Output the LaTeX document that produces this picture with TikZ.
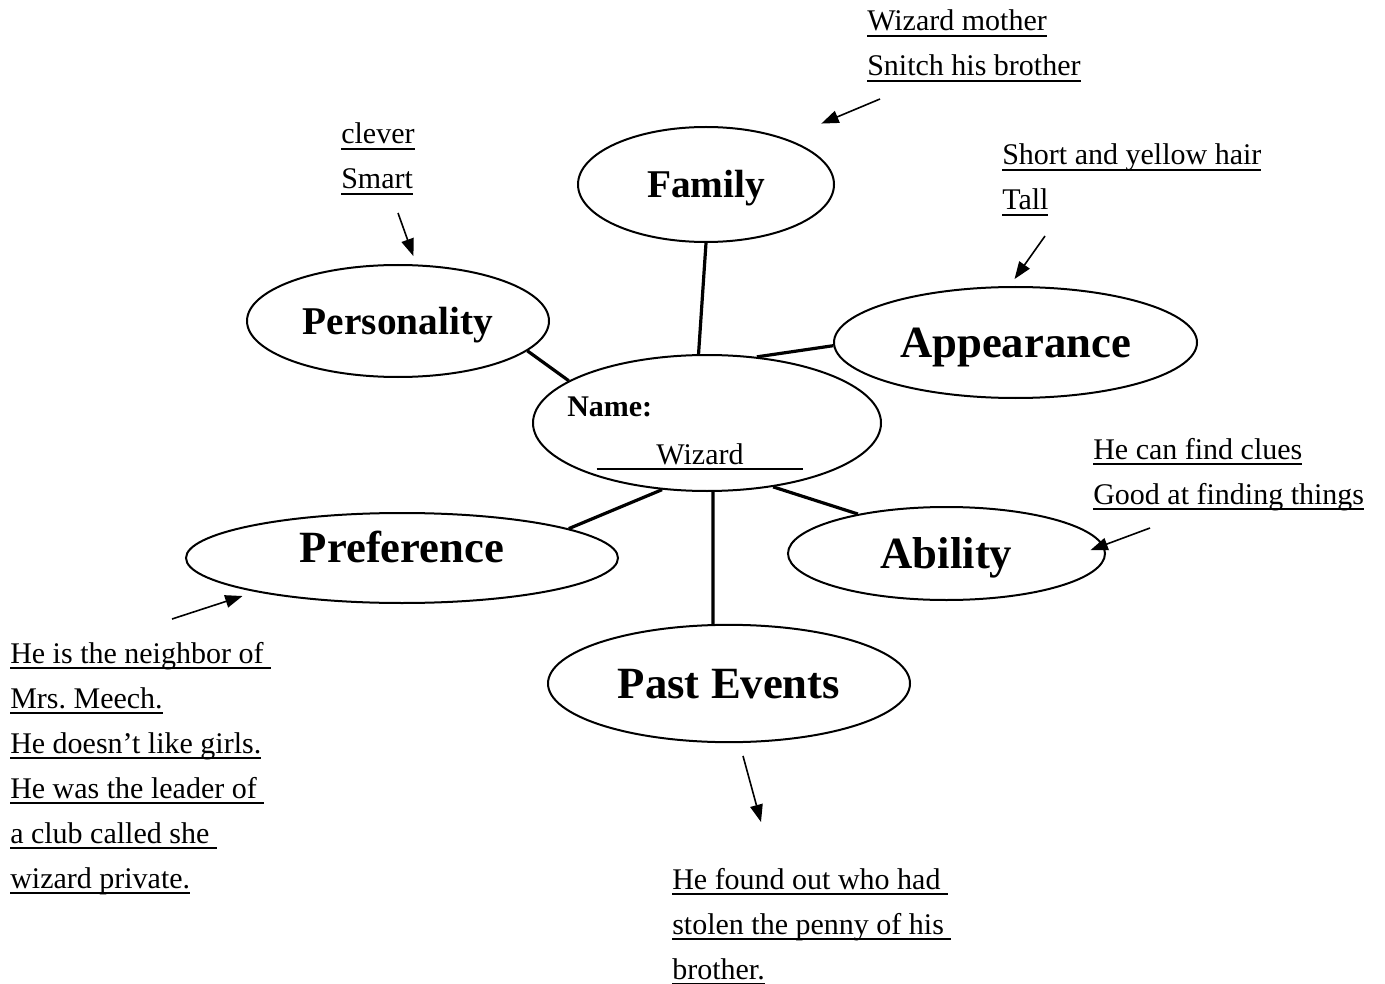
\documentclass[tikz,border=0pt]{standalone}
\usepackage{fontspec}
\setmainfont{Liberation Serif}
\usetikzlibrary{arrows.meta,shapes.geometric}
\frenchspacing
\newcommand{\notefont}{\fontsize{22.5}{33.75}\selectfont}
\newcommand{\topicfont}{\fontsize{33.5}{40}\selectfont\bfseries}
\newcommand{\smalltopicfont}{\fontsize{29.5}{35}\selectfont\bfseries}
\newcommand{\ulword}[1]{\setbox0=\hbox{#1}\rlap{\rule[-4.4pt]{\wd0}{1.4pt}}\box0}
\tikzset{
  topic/.style={ellipse, draw, line width=1.5pt, inner sep=0pt,
    font=\topicfont, text height=22.6pt, text depth=0pt},
  smalltopic/.style={topic, font=\smalltopicfont, text height=19.9pt},
  link/.style={line width=2.4pt},
  pointer/.style={line width=1.2pt, -{Triangle[length=13pt,width=9.5pt]}},
  notes/.style={anchor=base west, inner sep=0pt, font=\notefont}
}

\begin{document}
\begin{tikzpicture}[x=0.75pt, y=-0.75pt]
  \useasboundingbox (0,0) rectangle (1385,984);
  % the topics round the name
  \node[smalltopic, minimum width=192pt, minimum height=86.25pt] (family) at (706,184.5) {Family};
  \node[smalltopic, minimum width=226.5pt, minimum height=84pt] (personality) at (398,321) {Personality};
  \node[topic, minimum width=272.25pt, minimum height=83.25pt] (appearance) at (1015.5,342.5) {Appearance};
  \node[topic, minimum width=261pt, minimum height=102pt] (name) at (707,423) {};
  \node[topic, minimum width=324pt, minimum height=67.5pt, text depth=15.2pt] (preference) at (402,558) {Preference};
  \node[topic, minimum width=237.75pt, minimum height=69.75pt] (ability) at (946.5,553.5) {Ability};
  \node[topic, minimum width=271.5pt, minimum height=88pt] (pastevents) at (729,683.5) {Past Events};

  \node[anchor=base west, inner sep=0pt, font=\notefont\bfseries] (namelabel) at (567,416) {Name:};
  \node[anchor=base, inner sep=0pt, minimum width=154.5pt, font=\notefont] (namevalue) at (700,464) {Wizard};
  \draw[line width=1.4pt] ([yshift=-3.7pt]namevalue.base west) -- ([yshift=-3.7pt]namevalue.base east);

  \draw[link] (family.south) -- (name.97);
  \draw[link] (personality.-13) -- (name.163);
  \draw[link] (appearance.181) -- (name.53);
  \draw[link] (name.236) -- (preference.10);
  \draw[link] (name.-85) -- (pastevents.105);
  \draw[link] (name.-44) -- (ability.156);

  % notes and their arrows
  \node[notes] (famnotes) at (867,31) {\vtop{\hbox{\ulword{Wizard mother}}\hbox{\ulword{Snitch his brother}}}};
  \node[notes] (persnotes) at (341,144) {\vtop{\hbox{\ulword{clever}}\hbox{\ulword{Smart}}}};
  \node[notes] (appnotes) at (1002,165) {\vtop{\hbox{\ulword{Short and yellow hair}}\hbox{\ulword{Tall}}}};
  \node[notes] (ablnotes) at (1093,459) {\vtop{\hbox{\ulword{He can find clues}}\hbox{\ulword{Good at finding things}}}};
  \node[notes] (prefnotes) at (10,663) {\vtop{\hbox{\ulword{He is the neighbor of\ }}\hbox{\ulword{Mrs. Meech.}}
    \hbox{\ulword{He doesn’t like girls.}}\hbox{\ulword{He was the leader of\ }}
    \hbox{\ulword{a club called she\ }}\hbox{\ulword{wizard private.}}}};
  \node[notes] (evnotes) at (672,889) {\vtop{\hbox{\ulword{He found out who had\ }}
    \hbox{\ulword{stolen the penny of his\ }}\hbox{\ulword{brother.}}}};

  \coordinate (famtail) at (880,99);
  \coordinate (perstail) at (398,213);
  \coordinate (apptail) at (1045,236);
  \coordinate (abltail) at (1150,528);
  \coordinate (preftail) at (172,619);
  \coordinate (evhead) at (761,822);
  \draw[pointer, shorten >=29pt] (famtail) -- (family.30);
  \draw[pointer, shorten >=6.6pt] (perstail) -- (personality.72);
  \draw[pointer, shorten >=6.4pt] (apptail) -- (appearance.96);
  \draw[pointer, shorten >=-10.5pt] (abltail) -- (ability.3);
  \draw[pointer, shorten >=10pt] (preftail) -- (preference.193);
  \draw[pointer, shorten <=10pt] (pastevents.-80) -- (evhead);
\end{tikzpicture}
\end{document}
